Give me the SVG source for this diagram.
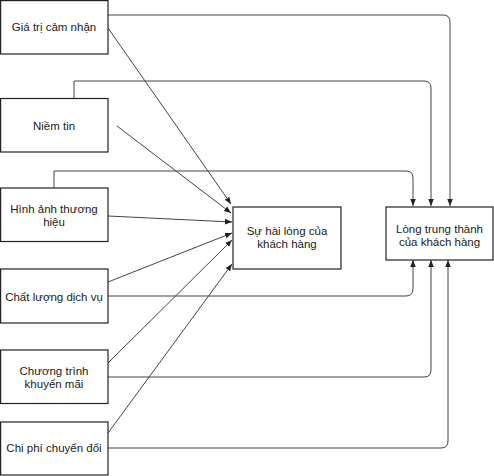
<svg xmlns="http://www.w3.org/2000/svg" width="494" height="476" viewBox="0 0 494 476">
<defs>
<style>
.box{fill:#fff;stroke:#222;stroke-width:1.2}
.t{font-family:"Liberation Sans",Arial,sans-serif;font-size:11.5px;fill:#222;text-anchor:middle}
.c{fill:none;stroke:#444;stroke-width:1}
</style>
<marker id="ah" viewBox="0 0 10 10" refX="10" refY="5" markerWidth="7" markerHeight="7" orient="auto" markerUnits="userSpaceOnUse">
<path d="M0,1 L10,5 L0,9 Z" fill="#222"/>
</marker>
</defs>
<rect width="494" height="476" fill="#fff"/>
<g id="connectors">
<path class="c" d="M108,15 H443 Q450,15 450,22 V206" marker-end="url(#ah)"/>
<path class="c" d="M74,98 V81 H424 Q431,81 431,88 V206" marker-end="url(#ah)"/>
<path class="c" d="M54,188 V171 H406 Q413,171 413,178 V206" marker-end="url(#ah)"/>
<path class="c" d="M108,296 H406 Q413,296 413,289 V260" marker-end="url(#ah)"/>
<path class="c" d="M108,377 H424 Q431,377 431,370 V260" marker-end="url(#ah)"/>
<path class="c" d="M108,448 H441 Q448,448 448,441 V260" marker-end="url(#ah)"/>
<path class="c" d="M108,28 L231,204" marker-end="url(#ah)"/>
<path class="c" d="M117,126 L231,213" marker-end="url(#ah)"/>
<path class="c" d="M108,216 L232,222" marker-end="url(#ah)"/>
<path class="c" d="M108,282 L232,233" marker-end="url(#ah)"/>
<path class="c" d="M108,363 L232,240" marker-end="url(#ah)"/>
<path class="c" d="M108,433 L232,264" marker-end="url(#ah)"/>
</g>
<g id="n1"><rect class="box" x="0.6" y="0.6" width="107.4" height="53.4"/><text class="t" x="54" y="31">Giá trị cảm nhận</text></g>
<g id="n2"><rect class="box" x="0.6" y="98.5" width="107.4" height="53.5"/><text class="t" x="54" y="130">Niềm tin</text></g>
<g id="n3"><rect class="box" x="0.6" y="188" width="107.4" height="53.5"/><text class="t" x="54" y="213">Hình ảnh thương</text><text class="t" x="54" y="226">hiệu</text></g>
<g id="n4"><rect class="box" x="0.6" y="269" width="107.4" height="54"/><text class="t" x="54" y="301">Chất lượng dịch vụ</text></g>
<g id="n5"><rect class="box" x="0.6" y="350" width="107.4" height="53.5"/><text class="t" x="54" y="375">Chương trình</text><text class="t" x="54" y="388">khuyến mãi</text></g>
<g id="n6"><rect class="box" x="0.6" y="422" width="107.4" height="53"/><text class="t" x="54" y="452">Chi phí chuyển đổi</text></g>
<g id="n7"><rect class="box" x="233" y="207" width="108" height="62"/><text class="t" x="287" y="235">Sự hài lòng của</text><text class="t" x="287" y="248">khách hàng</text></g>
<g id="n8"><rect class="box" x="386" y="207" width="107" height="53"/><text class="t" x="439.5" y="233">Lòng trung thành</text><text class="t" x="439.5" y="245.5">của khách hàng</text></g>
</svg>
